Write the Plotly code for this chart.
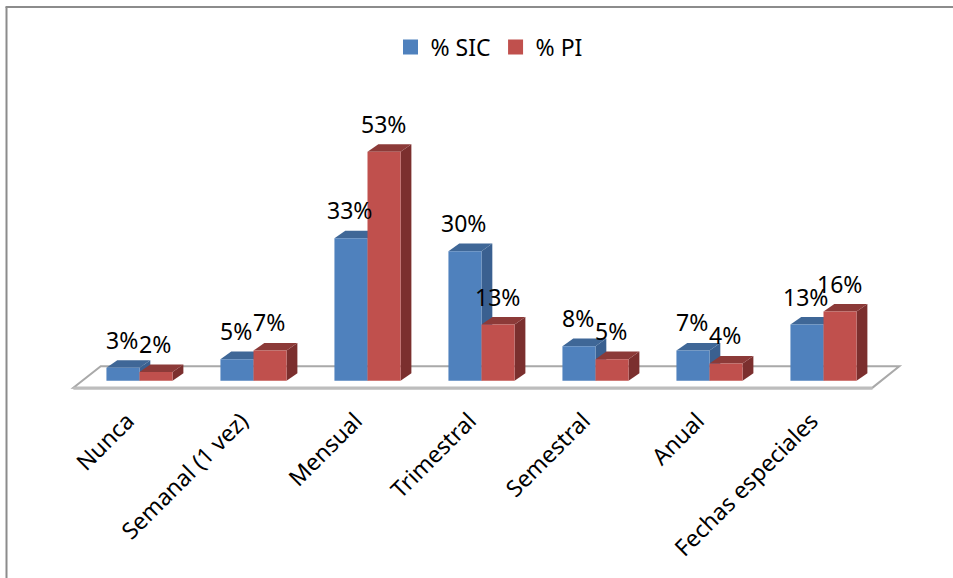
import plotly.graph_objects as go

categories = ["Nunca", "Semanal (1 vez)", "Mensual", "Trimestral", "Semestral", "Anual", "Fechas especiales"]
sic_values = [3, 5, 33, 30, 8, 7, 13]
pi_values = [2, 7, 53, 13, 5, 4, 16]

FONT = "Noto Sans"
BLUE, BLUE_TOP, BLUE_SIDE = "#4F81BD", "#3F6797", "#3A6090"
RED, RED_TOP, RED_SIDE = "#C0504D", "#8C3A38", "#7B2F2E"

BAR_W = 0.29      # width of one bar, in category units
DX, DY = 0.095, 1.75  # oblique depth of the 3-D extrusion, in axis units
X_RANGE = [-0.75, 6.75]
Y_RANGE = [-4, 65]
L, R, T, B = 54, 44, 100, 180
W, H = 953, 578

positions = list(range(len(categories)))


def poly(points, color):
    path = "M " + " L ".join(f"{x:.4f} {y:.4f}" for x, y in points) + " Z"
    return dict(type="path", path=path, xref="x", yref="y", layer="below",
                fillcolor=color, line=dict(width=0))


def faces(x0, value, top, side):
    x1 = x0 + BAR_W
    return [
        poly([(x1, 0), (x1 + DX, DY), (x1 + DX, value + DY), (x1, value)], side),
        poly([(x0, value), (x0 + DX, value + DY), (x1 + DX, value + DY), (x1, value)], top),
    ]


shapes = []

# Chart frame: left and top edges only
px = lambda v: (v - L) / (W - L - R)
py = lambda v: (H - B - v) / (H - T - B)
frame = dict(color="#8C8C8C", width=2)
shapes.append(dict(type="line", xref="paper", yref="paper", x0=px(6.5), x1=px(6.5), y0=py(H), y1=py(7), line=frame))
shapes.append(dict(type="line", xref="paper", yref="paper", x0=px(5.5), x1=px(W), y0=py(7), y1=py(7), line=frame))

# Floor of the 3-D plot
shapes.append(dict(type="path", xref="x", yref="y", layer="below",
                   path="M -0.58 -1.6 L 6.43 -1.6 L 6.665 3.35 L -0.34 3.35 Z",
                   fillcolor="white", line=dict(color="#A9A9A9", width=2)))
shapes.append(dict(type="line", xref="x", yref="y", layer="below",
                   x0=-0.58, x1=6.43, y0=-1.75, y1=-1.75, line=dict(color="#BDBDBD", width=3)))

# Side and top faces sit behind the bars; blue first so red overlaps it
for i in positions:
    shapes += faces(i - BAR_W, sic_values[i], BLUE_TOP, BLUE_SIDE)
for i in positions:
    shapes += faces(i, pi_values[i], RED_TOP, RED_SIDE)

fig = go.Figure()
fig.add_bar(x=positions, y=sic_values, name="% SIC", marker=dict(color=BLUE, line=dict(width=0)),
            offsetgroup="sic", showlegend=False)
fig.add_bar(x=positions, y=pi_values, name="% PI", marker=dict(color=RED, line=dict(width=0)),
            offsetgroup="pi", showlegend=False)

# Legend keys with a larger square swatch than bars get by default
for name, color in [("% SIC", BLUE), ("% PI", RED)]:
    fig.add_scatter(x=[None], y=[None], mode="markers", name=name,
                    marker=dict(symbol="square", size=15, color=color))

annotations = []
for i in positions:
    for center, value in [(i - BAR_W / 2, sic_values[i]), (i + BAR_W / 2, pi_values[i])]:
        annotations.append(dict(x=center, y=value, xref="x", yref="y", text=f"{value}%",
                                showarrow=False, yshift=28, xshift=-1,
                                xanchor="center", yanchor="middle",
                                font=dict(family=FONT, size=23, color="black")))

fig.update_layout(
    width=W, height=H, autosize=False,
    margin=dict(l=L, r=R, t=T, b=B, pad=0),
    paper_bgcolor="white", plot_bgcolor="white",
    barmode="group", bargap=1 - 2 * BAR_W, bargroupgap=0,
    shapes=shapes, annotations=annotations,
    legend=dict(orientation="h", x=(489 - L) / (W - L - R), xanchor="center",
                y=(H - B - 47) / (H - T - B), yanchor="middle",
                font=dict(family=FONT, size=23, color="black"), bgcolor="rgba(0,0,0,0)"),
    xaxis=dict(range=X_RANGE, tickmode="array", tickvals=positions, ticktext=categories,
               tickangle=-45, ticks="", showgrid=False, zeroline=False, showline=False,
               ticklabelshift=-12, ticklabelstandoff=4,
               tickfont=dict(family=FONT, size=23, color="black")),
    yaxis=dict(range=Y_RANGE, visible=False, showgrid=False, zeroline=False),
)

fig.write_html("out.html", config=dict(displayModeBar=False))
